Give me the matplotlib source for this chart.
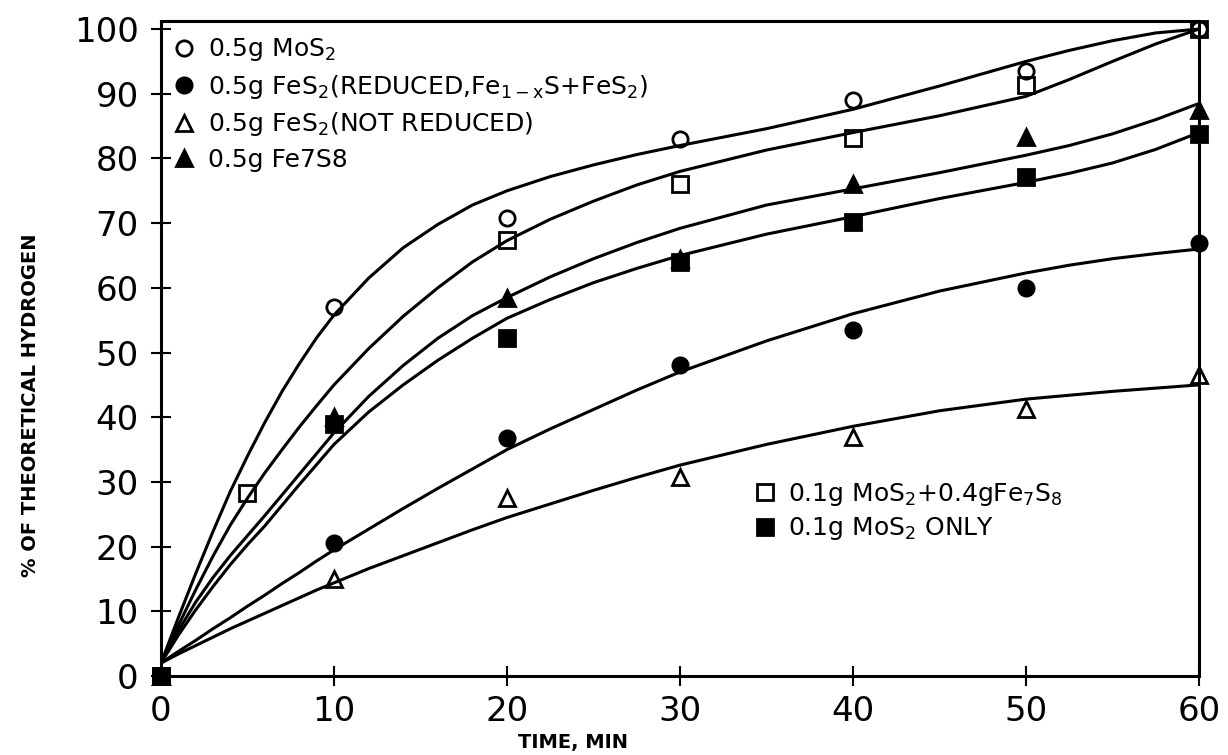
import matplotlib
matplotlib.use("Agg")
import matplotlib.pyplot as plt

plt.rcParams['font.family'] = ['DejaVu Sans']
plt.rcParams['mathtext.default'] = 'regular'

# measured points (time, min / % of theoretical hydrogen)
t = [0, 10, 20, 30, 40, 50, 60]
mos2_05 = [0, 57, 70.8, 83, 89, 93.5, 100]
fes2_red = [0, 20.5, 36.8, 48, 53.5, 60, 67]
fes2_notred = [0, 15, 27.5, 30.8, 37, 41.2, 46.5]
fe7s8 = [0, 40, 58.4, 64.5, 76, 83.3, 87.5]

t_mix = [0, 5, 20, 30, 40, 50, 60]
mos2_fe7s8 = [0, 28.3, 67.4, 76, 83.2, 91.3, 100]
t_only = [0, 10, 20, 30, 40, 50, 60]
mos2_only = [0, 39, 52.2, 64, 70.2, 77.1, 83.8]

# hand drawn fitted curves
curve_t = [0, 1, 2, 3, 4, 5, 6, 7, 8, 9, 10, 12, 14, 16, 18, 20,
           22.5, 25, 27.5, 30, 35, 40, 45, 50, 52.5, 55, 57.5, 60]
curve_mos2_05 = [2, 9, 15.8, 22.3, 28.5, 34, 39.2, 44, 48.3, 52.3, 55.8, 61.5, 66.2, 69.8,
                 72.8, 75, 77.2, 79, 80.6, 82, 84.6, 87.6, 91.2, 95, 96.7, 98.2, 99.4, 100]
curve_mos2_fe7s8 = [2, 7.8, 13.3, 18.5, 23.3, 27.5, 31.4, 35, 38.5, 41.8, 45, 50.6, 55.6, 60,
                    64, 67.3, 70.6, 73.4, 75.9, 78, 81.3, 84, 86.6, 89.6, 92.2, 95, 97.7, 100]
curve_fe7s8 = [2, 7, 11.4, 15.2, 18.6, 21.7, 24.8, 28, 31.2, 34.4, 37.6, 43.2, 48, 52.2,
               55.7, 58.5, 61.7, 64.5, 67, 69.2, 72.8, 75.3, 77.8, 80.5, 82, 83.8, 86, 88.5]
curve_mos2_only = [2, 6.3, 10.2, 13.8, 17.2, 20.3, 23.2, 26.4, 29.6, 32.7, 35.8, 40.8, 45, 48.8,
                   52.2, 55.3, 58.2, 60.8, 63, 65, 68.3, 71, 73.8, 76.3, 77.7, 79.3, 81.4, 84]
curve_fes2_red = [2, 3.8, 5.5, 7.3, 9, 10.8, 12.5, 14.3, 16, 17.8, 19.5, 22.7, 25.9, 29,
                  32, 35, 38.2, 41.2, 44.2, 47, 51.8, 56, 59.5, 62.3, 63.5, 64.5, 65.3, 66]
curve_fes2_notred = [2, 3.4, 4.7, 6, 7.3, 8.5, 9.7, 10.9, 12.1, 13.3, 14.4, 16.6, 18.6, 20.6,
                     22.6, 24.5, 26.6, 28.7, 30.7, 32.6, 35.8, 38.6, 41, 42.8, 43.4, 44, 44.5, 45]

fig = plt.figure(figsize=(12.28, 7.55), dpi=100)
ax = fig.add_axes([0.1311, 0.1046, 0.8453, 0.8672])

for cy in [curve_mos2_05, curve_mos2_fe7s8, curve_fe7s8, curve_mos2_only,
           curve_fes2_red, curve_fes2_notred]:
    ax.plot(curve_t, cy, color='black', lw=2.2, solid_joinstyle='round',
            solid_capstyle='round', zorder=2)

kw = dict(ls='none', color='black', ms=11, mew=2.0, clip_on=False, zorder=3)
h1, = ax.plot(t, mos2_05, marker='o', mfc='none', **kw)
h3, = ax.plot(t, fes2_notred, marker='^', mfc='none', **kw)
h5, = ax.plot(t_mix, mos2_fe7s8, marker='s', mfc='none', **kw)
h2, = ax.plot(t, fes2_red, marker='o', mfc='black', **kw)
h4, = ax.plot(t, fe7s8, marker='^', mfc='black', **kw)
h6, = ax.plot(t_only, mos2_only, marker='s', mfc='black', **kw)

ax.set_xlim(0, 60)
ax.set_ylim(0, 101.2)
ax.set_xticks(range(0, 61, 10))
ax.set_yticks(range(0, 101, 10))
ax.tick_params(direction='inout', length=14, width=1.5, labelsize=24.5)
ax.tick_params(axis='y', pad=9)
ax.tick_params(axis='x', pad=7)
for s in ax.spines.values():
    s.set_linewidth(2.2)

ax.set_xlabel("TIME, MIN", fontsize=14, fontweight='bold')
ax.xaxis.set_label_coords(0.397, -0.087)
ax.set_ylabel("% OF THEORETICAL HYDROGEN", fontsize=14, fontweight='bold')
ax.yaxis.set_label_coords(-0.1166, 0.414)

leg1 = ax.legend([h1, h2, h3, h4],
                 [r"0.5g MoS$_2$",
                  r"0.5g FeS$_2$(REDUCED,Fe$_{1-x}$S+FeS$_2$)",
                  r"0.5g FeS$_2$(NOT REDUCED)",
                  "0.5g Fe7S8"],
                 loc='upper left', bbox_to_anchor=(0.010, 0.977),
                 frameon=False, fontsize=18, handlelength=1.0,
                 handletextpad=0.45, labelspacing=0.38,
                 borderpad=0, borderaxespad=0)
ax.add_artist(leg1)
ax.legend([h5, h6],
          [r"0.1g MoS$_2$+0.4gFe$_7$S$_8$", r"0.1g MoS$_2$ ONLY"],
          loc='upper left', bbox_to_anchor=(0.570, 0.298),
          frameon=False, fontsize=18, handlelength=1.0,
          handletextpad=0.4, labelspacing=0.3,
          borderpad=0, borderaxespad=0)

fig.savefig("out.png", dpi=100)
